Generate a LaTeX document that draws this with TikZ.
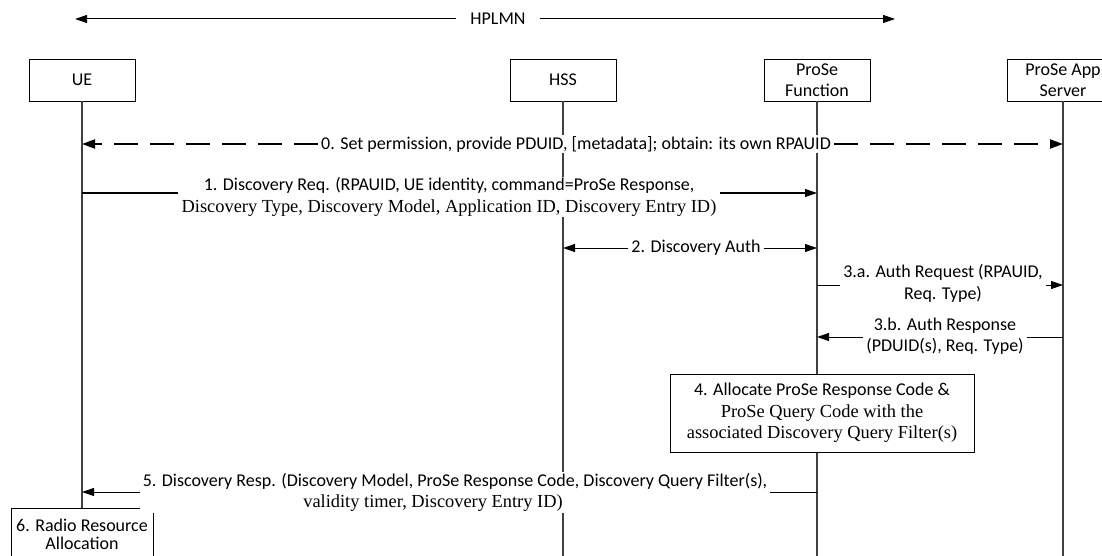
\documentclass[tikz,border=0pt]{standalone}
\usepackage{fontspec}
\setmainfont{Carlito}
\newfontfamily\tnr{Liberation Serif}
\usetikzlibrary{arrows.meta}
\newcommand\tmr{\fontsize{18.4}{21.5}\selectfont\tnr}
\begin{document}
\begin{tikzpicture}[x=1pt,y=-1pt,
  font=\fontsize{18}{21.5}\selectfont,
  box/.style={draw, line width=0.9pt, minimum width=106pt, minimum height=42pt, align=center, inner sep=2pt, fill=white},
  lbl/.style={fill=white, inner xsep=3pt, inner ysep=1pt, align=center},
  life/.style={line width=1.2pt, black!75},
  msgline/.style={line width=1pt},
  tip/.style={line width=1pt, -{Triangle[length=12pt,width=8pt]}},
  dsh/.style={line width=2pt, dash pattern=on 24pt off 12pt, -{Triangle[length=13pt,width=9pt]}}]
\useasboundingbox (0,0) rectangle (1102,556);
\clip (0,0) rectangle (1102,556);
\coordinate (bot) at (0,556);
% header
\node[lbl, fill=none, inner xsep=14pt] (hp) at (498,19) {HPLMN};
\coordinate (hl) at (75,19);
\coordinate (hr) at (895,19);
\draw[tip] (hp) -- (hl);
\draw[tip] (hp) -- (hr);
% participants
\node[box] (ue) at (82,80) {UE};
\node[box] (hss) at (563,80) {HSS};
\node[box] (pf) at (817,80) {ProSe\\Function};
\node[box, minimum width=112pt] (as) at (1063,80) {ProSe App\\Server};
\node[box, anchor=north, minimum width=142pt, minimum height=52pt, font=\fontsize{18}{18.5}\selectfont] (ra) at (82,508) {6. Radio Resource\\Allocation};
% lifelines
\draw[life] (ue.south) -- (ra.north);
\draw[life] (hss.south) -- (hss.south |- bot);
\draw[life] (pf.south) -- (pf.south |- bot);
\draw[life] (as.south) -- (as.south |- bot);
% box 4
\node[box, minimum width=304pt, minimum height=78pt] (b4) at (822,413)
  {4. Allocate ProSe Response Code \&\\{\tmr ProSe Query Code with the}\\{\tmr associated Discovery Query Filter(s)}};
% 0
\node[lbl] (m0) at (576,144) {0. Set permission, provide PDUID, [metadata]; obtain: its own RPAUID};
\draw[dsh] (m0.west) -- (ue |- m0);
\draw[dsh] (m0.east) -- (as |- m0);
% 1
\coordinate (y1) at (0,193);
\node[lbl] (m1) at (449,197) {1. Discovery Req. (RPAUID, UE identity, command=ProSe Response,\\{\tmr Discovery Type, Discovery Model, Application ID, Discovery Entry ID)}};
\draw[msgline] (ue |- y1) -- (m1.west |- y1);
\draw[tip] (m1.east |- y1) -- (pf |- y1);
% 2
\node[lbl] (m2) at (696,248) {2. Discovery Auth};
\draw[tip] (m2.west) -- (hss |- m2);
\draw[tip] (m2.east) -- (pf |- m2);
% 3a
\coordinate (y3a) at (0,285);
\node[lbl] (m3a) at (943,283.5) {3.a. Auth Request (RPAUID,\\Req. Type)};
\draw[msgline] (pf |- y3a) -- (m3a.west |- y3a);
\draw[tip] (m3a.east |- y3a) -- (as |- y3a);
% 3b
\coordinate (y3b) at (0,337);
\node[lbl] (m3b) at (945,336) {3.b. Auth Response\\(PDUID(s), Req. Type)};
\draw[msgline] (as |- y3b) -- (m3b.east |- y3b);
\draw[tip] (m3b.west |- y3b) -- (pf |- y3b);
% 5
\coordinate (y5) at (0,492);
\node[lbl] (m5) at (455,492.5) {5. Discovery Resp. (Discovery Model, ProSe Response Code, Discovery Query Filter(s),\\{\tmr validity timer, Discovery Entry ID)}\kern44pt};
\draw[msgline] (pf |- y5) -- (m5.east |- y5);
\draw[tip] (m5.west |- y5) -- (ue |- y5);
\end{tikzpicture}
\end{document}
